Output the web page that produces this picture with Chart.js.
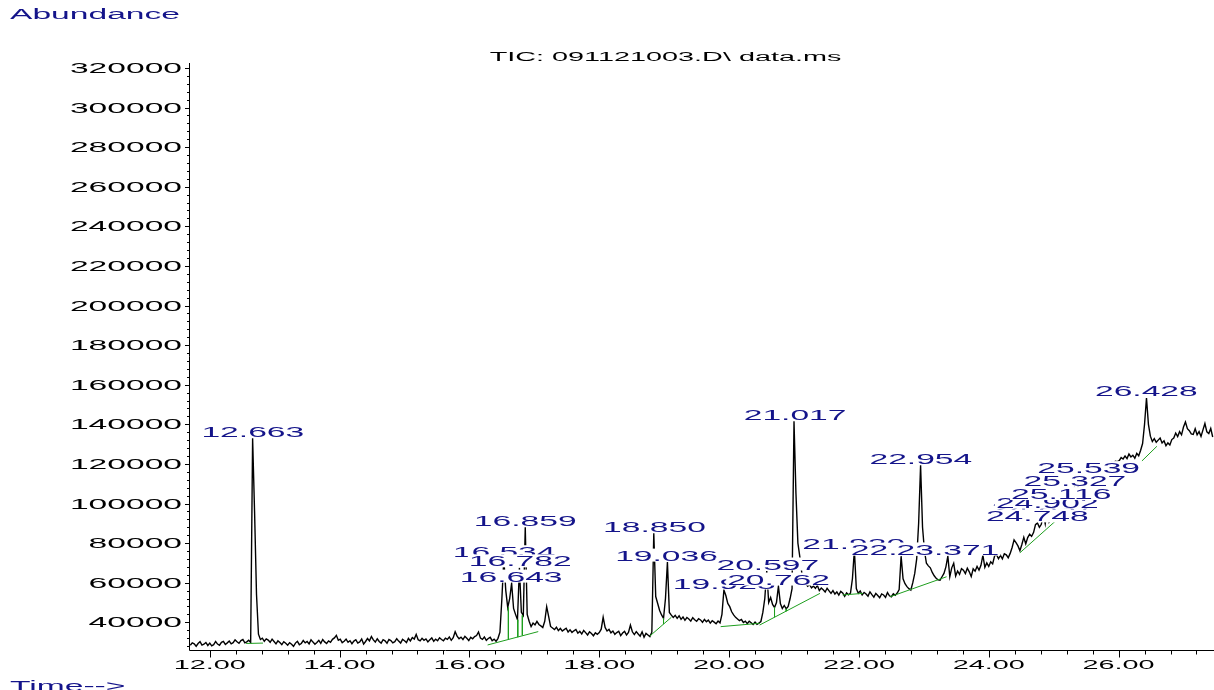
<!DOCTYPE html>
<html>
<head>
<meta charset="utf-8">
<script src="https://cdn.jsdelivr.net/npm/chart.js@4/dist/chart.umd.min.js"></script>
<style>
  html, body { margin: 0; padding: 0; background: #ffffff; overflow: hidden; }
  #wrap { width: 1214px; height: 690px; position: relative; }
</style>
</head>
<body>
<div id="wrap"><canvas id="tic" width="1214" height="690"></canvas></div>
<script>
// Total ion chromatogram, one reading per scan
const scanStart = 11.70;   // min
const scanStep = 0.03;     // min between scans
const abundance = [
  // 11.70
  28400, 29600, 29100, 27900, 29300, 30200, 28500, 28900, 29800, 28300,
  // 12.00
  29500, 28100, 28700, 30300, 29000, 28400, 29900, 30400, 28800, 29600,
  // 12.30
  30500, 29100, 29700, 31100, 30200, 29400, 30800, 31300, 29600, 30100,
  // 12.60
  30900, 29800, 133000, 96000, 54000, 34000, 31300, 32000, 30400, 31600,
  // 12.90
  31000, 29900, 31500, 30300, 29100, 30600, 29800, 28700, 30200, 29400,
  // 13.20
  28400, 29700, 28900, 27900, 29500, 30400, 28700, 29300, 30800, 29600,
  // 13.50
  30300, 29100, 31200, 30000, 28900, 29800, 30900, 29400, 31300, 30100,
  // 13.80
  29300, 30600, 29900, 31400, 32100, 33400, 30900, 31500, 29700, 30400,
  // 14.10
  31500, 29900, 30700, 29200, 30500, 31200, 29500, 30100, 31600, 29000,
  // 14.40
  30300, 31800, 30600, 32800, 31100, 30000, 31700, 30300, 29500, 31200,
  // 14.70
  30600, 29400, 31300, 30800, 29600, 30200, 31700, 30500, 29500, 31400,
  // 15.00
  30700, 29800, 31900, 30600, 32300, 31500, 33900, 31200, 30600, 31900,
  // 15.30
  30900, 31600, 30100, 31200, 32100, 30400, 31500, 30700, 32200, 31300,
  // 15.60
  30700, 32000, 31400, 32600, 30900, 32200, 35200, 33000, 31700, 32500,
  // 15.90
  31300, 32900, 31900, 30800, 32400, 31700, 32800, 33300, 35100, 32000,
  // 16.20
  31400, 32600, 30900, 31800, 32400, 30700, 31500, 30400, 31900, 35000,
  // 16.50
  52000, 72100, 56000, 47500, 52000, 59800, 47000, 44000, 41300, 67500,
  // 16.80
  45000, 43500, 88000, 44000, 40500, 37800, 39600, 38700, 40500, 38900,
  // 17.10
  38200, 37400, 40500, 47900, 43000, 37900, 37100, 36300, 37500, 35800,
  // 17.40
  36900, 35600, 36300, 37000, 35100, 36200, 34900, 35700, 36400, 34500,
  // 17.70
  35400, 34100, 35900, 34800, 33600, 35200, 34300, 33200, 34700, 33900,
  // 18.00
  34800, 36500, 42500, 37400, 35600, 36400, 34700, 35600, 33900, 34800,
  // 18.30
  35500, 33300, 34600, 35400, 33600, 34900, 38600, 35200, 33800, 35300,
  // 18.60
  34100, 33000, 35200, 32500, 34400, 33600, 32800, 35000, 85000, 53000,
  // 18.90
  49500, 46000, 43700, 42000, 52000, 70400, 45000, 43600, 42400, 43500,
  // 19.20
  42000, 43300, 41500, 42700, 41000, 42400, 41700, 40600, 42300, 41300,
  // 19.50
  40500, 41800, 41200, 40000, 41500, 40300, 41100, 39600, 40800, 40100,
  // 19.80
  39300, 40600, 39700, 44000, 56300, 53500, 49500, 47900, 45300, 43700,
  // 20.10
  42500, 41700, 40800, 41400, 39900, 40600, 39300, 40500, 39800, 38900,
  // 20.40
  40100, 39000, 39600, 40400, 45000, 52000, 65900, 50000, 52500, 49000,
  // 20.70
  47500, 50000, 58300, 49500, 47000, 48500, 46800, 48000, 52000, 57000,
  // 21.00
  141500, 105000, 80000, 73000, 65000, 61000, 59500, 58200, 59000, 57400,
  // 21.30
  58300, 57100, 58600, 56000, 57300, 56400, 55300, 57200, 55900, 54600,
  // 21.60
  56000, 54300, 55300, 53700, 55600, 54800, 53100, 54900, 53900, 54700,
  // 21.90
  62000, 76500, 57000, 54700, 55800, 53800, 55100, 54300, 53200, 55400,
  // 22.20
  54000, 52700, 54600, 53500, 52400, 54300, 53800, 52600, 55000, 53400,
  // 22.50
  52900, 54400, 53600, 54800, 56500, 73400, 62000, 59500, 58000, 57000,
  // 22.80
  56300, 60000, 64700, 72000, 90000, 119300, 88000, 76000, 69800, 68500,
  // 23.10
  67500, 65200, 63500, 62200, 61500, 61300, 63000, 64700, 68000, 73400,
  // 23.40
  63000, 67500, 69800, 63400, 65900, 64200, 67100, 66300, 64600, 67300,
  // 23.70
  65500, 63100, 67000, 65800, 68200, 66400, 68800, 73900, 67800, 70000,
  // 24.00
  68200, 70600, 69500, 73500, 74200, 72100, 73800, 72000, 74600, 74100,
  // 24.30
  72600, 74800, 77800, 81600, 80200, 78600, 76200, 79300, 82900, 79600,
  // 24.60
  82800, 84500, 83400, 85300, 89300, 90200, 88000, 89500, 94600, 89800,
  // 24.90
  97100, 90700, 92500, 94000, 94800, 97000, 97800, 101500, 98600, 100800,
  // 25.20
  101800, 103900, 104600, 106900, 108200, 106600, 108900, 109700, 111400, 111800,
  // 25.50
  113200, 114600, 113100, 114900, 115200, 116400, 116700, 117800, 117600, 118800,
  // 25.80
  118700, 119800, 119600, 120800, 120600, 121300, 121100, 121600, 123200, 122500,
  // 26.10
  124000, 122700, 125000, 123500, 124400, 122900, 125300, 124100, 126900, 130300,
  // 26.40
  140000, 153300, 140000, 134000, 131300, 132800, 130900, 132000, 133100, 130600,
  // 26.70
  131700, 129200, 130600, 129600, 132300, 133100, 135600, 133800, 136300, 134700,
  // 27.00
  138600, 141200, 137800, 136800, 135200, 134900, 137800, 134700, 136300, 133900,
  // 27.30
  137200, 140400, 136200, 135300, 137900, 133600
];

// Integrated peak labels (retention time, min), in the order they are printed
const peakLabels = [
  '12.663', '16.534', '16.643', '16.782', '16.859', '18.850', '19.036', '19.925',
  '20.597', '20.762', '21.017', '21.920', '22.667', '22.954', '23.371',
  '24.837', '24.902', '24.748', '25.116', '25.327', '25.539', '26.428'
];

// Integration baselines: [start min, start abundance, end min, end abundance]
const baselineSegments = [
  [12.56, 29300, 12.82, 29500],
  [16.28, 28550, 17.06, 35300],
  [18.78, 33100, 19.11, 42500],
  [19.87, 37800, 20.47, 39500],
  [20.47, 38600, 21.40, 54600],
  [21.75, 53800, 22.06, 54600],
  [22.48, 52900, 23.35, 63000],
  [24.48, 75100, 25.02, 90900],
  [26.36, 121500, 26.59, 128900]
];

// Peak split drop lines: [min, top abundance, baseline abundance]
const dropLines = [
  [16.60, 47500, 31400],
  [16.745, 41300, 32500],
  [16.815, 43500, 33400],
  [18.99, 42000, 39100],
  [20.70, 47500, 42600],
  [20.88, 46800, 45600]
];

const timeTickLabels = ['12.00', '14.00', '16.00', '18.00', '20.00', '22.00', '24.00', '26.00'];
const abundanceTickLabels = [40000, 60000, 80000, 100000, 120000, 140000, 160000, 180000,
  200000, 220000, 240000, 260000, 280000, 300000, 320000];

const chartTitle = 'TIC: 091121003.D\\ data.ms';
const yAxisTitle = 'Abundance';
const xAxisTitle = 'Time-->';

// ---- drawing ----
const NAVY = '#14148a';
const FONT = '"Liberation Sans", Arial, Helvetica, sans-serif';
const STRETCH = 2.4;      // wide plotter lettering

const tracePoints = abundance.map((v, i) => ({ x: +(scanStart + i * scanStep).toFixed(3), y: v }));

const basePoints = [];
baselineSegments.forEach(s => {
  basePoints.push({ x: s[0], y: s[1] }, { x: s[2], y: s[3] }, { x: s[2], y: null });
});
const dropPoints = [];
dropLines.forEach(d => {
  dropPoints.push({ x: d[0], y: d[1] }, { x: d[0], y: d[2] }, { x: d[0], y: null });
});

function wideText(ctx, text, x, capMid, size, align, color) {
  ctx.save();
  ctx.font = size + 'px ' + FONT;
  ctx.fillStyle = color;
  ctx.textBaseline = 'alphabetic';
  ctx.textAlign = 'left';
  const w = ctx.measureText(text).width * STRETCH;
  const left = align === 'center' ? x - w / 2 : (align === 'right' ? x - w : x);
  ctx.translate(left, capMid + size * 0.358);
  ctx.scale(STRETCH, 1);
  ctx.fillText(text, 0, 0);
  ctx.restore();
  return { left: left, width: w };
}

function apexOf(rt) {
  const k = Math.round((rt - scanStart) / scanStep);
  let m = -Infinity;
  for (let j = k - 1; j <= k + 1; j++) {
    if (j >= 0 && j < abundance.length) m = Math.max(m, abundance[j]);
  }
  return m;
}

const chemstationFrame = {
  id: 'chemstationFrame',
  afterDatasetsDraw(chart) {
    const ctx = chart.ctx;
    const xs = chart.scales.x, ys = chart.scales.y;
    const area = chart.chartArea;

    // peak labels on white boxes
    peakLabels.forEach(lbl => {
      const rt = parseFloat(lbl);
      const px = xs.getPixelForValue(rt);
      const py = ys.getPixelForValue(apexOf(rt));
      const size = 14;
      ctx.save();
      ctx.font = size + 'px ' + FONT;
      const w = ctx.measureText(lbl).width * STRETCH;
      ctx.fillStyle = '#ffffff';
      ctx.fillRect(px - w / 2 - 1, py - 13.5, w + 2, 13);
      ctx.restore();
      wideText(ctx, lbl, px, py - 6.5, size, 'center', NAVY);
    });

    ctx.save();
    ctx.strokeStyle = '#000000';
    ctx.lineWidth = 1;
    const axX = Math.round(area.left) + 0.5;
    const axY = Math.round(area.bottom) - 0.5;
    ctx.beginPath();
    ctx.moveTo(axX, area.top);
    ctx.lineTo(axX, axY);
    ctx.lineTo(area.right, axY);
    ctx.stroke();

    // y ticks: minor every 4000, major every 20000
    ctx.beginPath();
    for (let v = 28000; v <= ys.max; v += 4000) {
      const y = Math.round(ys.getPixelForValue(v)) + 0.5;
      const major = v % 20000 === 0;
      ctx.moveTo(axX - (major ? 4.5 : 2.5), y);
      ctx.lineTo(axX, y);
    }
    // x ticks: minor every 0.4 min, major every 2 min
    for (let k = 0; ; k++) {
      const t = 12 + k * 0.4;
      if (t > xs.max) break;
      const x = Math.round(xs.getPixelForValue(t)) + 0.5;
      const major = k % 5 === 0;
      ctx.moveTo(x, axY);
      ctx.lineTo(x, axY + (major ? 7 : 4));
    }
    ctx.stroke();
    ctx.restore();

    abundanceTickLabels.forEach(v => {
      wideText(ctx, String(v), 182, ys.getPixelForValue(v), 14, 'right', '#000000');
    });
    timeTickLabels.forEach(s => {
      wideText(ctx, s, xs.getPixelForValue(parseFloat(s)), 665, 12, 'center', '#000000');
    });

    wideText(ctx, chartTitle, 665.5, 56.5, 12, 'center', '#000000');
    wideText(ctx, yAxisTitle, 10, 14, 14, 'left', NAVY);
    wideText(ctx, xAxisTitle, 10, 686, 14, 'left', NAVY);
  }
};

new Chart(document.getElementById('tic').getContext('2d'), {
  type: 'line',
  data: {
    datasets: [
      { data: dropPoints, borderColor: '#1e9e1e', borderWidth: 1, pointRadius: 0, spanGaps: false, order: 1 },
      { data: basePoints, borderColor: '#1e9e1e', borderWidth: 1, pointRadius: 0, spanGaps: false, order: 2 },
      { data: tracePoints, borderColor: '#000000', borderWidth: 1.4, pointRadius: 0, tension: 0, order: 3 }
    ]
  },
  options: {
    responsive: false,
    animation: false,
    events: [],
    layout: { padding: { left: 189, right: 0, top: 63, bottom: 39 } },
    scales: {
      x: { type: 'linear', min: 11.68, max: 27.47, display: false },
      y: { type: 'linear', min: 25500, max: 322500, display: false }
    },
    plugins: { legend: { display: false }, tooltip: { enabled: false }, title: { display: false } }
  },
  plugins: [chemstationFrame]
});
</script>
</body>
</html>
